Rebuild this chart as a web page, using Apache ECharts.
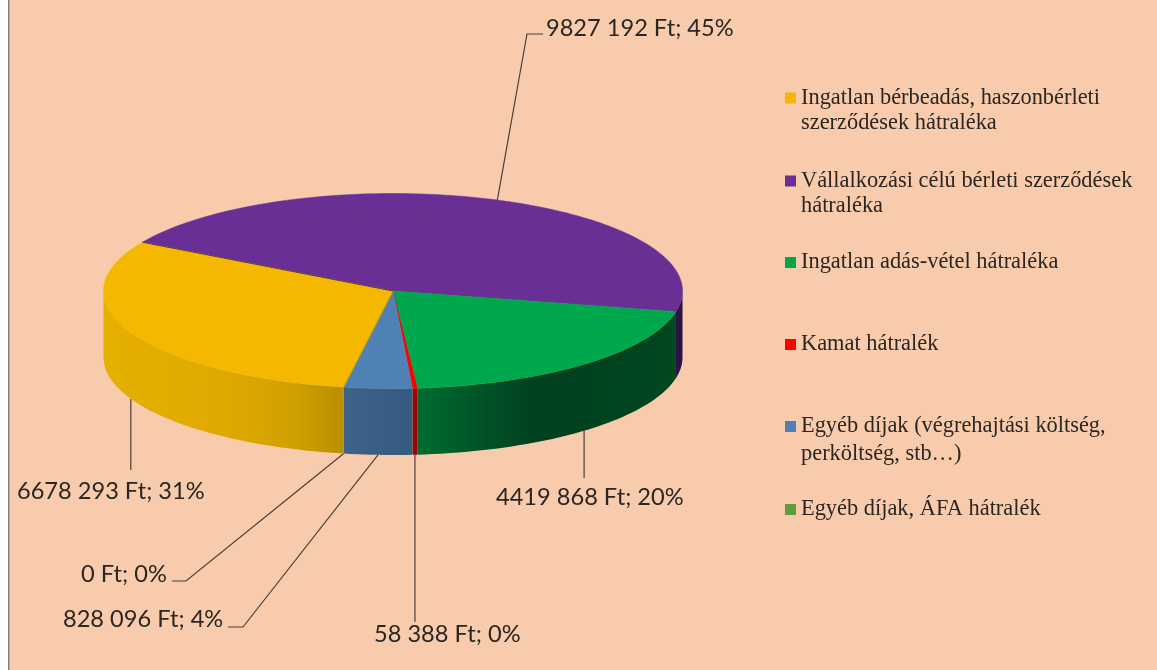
<!DOCTYPE html>
<html>
<head>
<meta charset="utf-8">
<style>
html,body{margin:0;padding:0;background:#fff;}
#main{width:1157px;height:670px;}
</style>
<script src="https://cdn.jsdelivr.net/npm/echarts@6/dist/echarts.min.js"></script>
</head>
<body>
<div id="main"></div>
<script>
var categories = [
	'Ingatlan bérbeadás, haszonbérleti\nszerződések hátraléka',
	'Vállalkozási célú bérleti szerződések\nhátraléka',
	'Ingatlan adás-vétel hátraléka',
	'Kamat hátralék',
	'Egyéb díjak (végrehajtási költség,\nperköltség, stb…)',
	'Egyéb díjak, ÁFA hátralék'
];
var amounts = [6678293, 9827192, 4419868, 58388, 828096, 0];
var percents = [31, 45, 20, 0, 4, 0];

var colors = ['#F4B800', '#692F95', '#00A84D', '#FF0000', '#4F81B4', '#5F9B3F'];
// side wall shading, offset and colour from the left end of the wall to the right end
var wallColors = [
	[[0, '#E6B000'], [0.5, '#E0A900'], [0.8, '#D0A000'], [1, '#B88E00']],
	[[0, '#2A1345'], [1, '#2A1345']],
	[[0, '#006C30'], [0.45, '#00401F'], [1, '#00471F']],
	[[0, '#A00000'], [1, '#A00000']],
	[[0, '#3D6488'], [1, '#345A7F']],
	[[0, '#3D6B28'], [1, '#3D6B28']]
];
var legendTops = [60.5, 143.5, 250, 332, 384.5, 497];
var legendLineHeights = [25, 25, 25, 25, 28, 25];

var cx = 393, cy = 291, rx = 289.5, ry = 97.5, depth = 66.5;
var firstAngle = 99.8;   // clockwise from the right, yellow slice starts here

var total = 0;
amounts.forEach(function(v){ total += v; });

// slices run clockwise yellow, purple, green, red, blue, last one
var angles = [];
(function(){
	var a = firstAngle;
	amounts.forEach(function(v){
		var sweep = v / total * 360;
		angles.push([a, a + sweep]);
		a += sweep;
	});
})();

function pt(deg, dy){
	var r = deg * Math.PI / 180;
	return [cx + rx * Math.cos(r), cy + ry * Math.sin(r) + (dy || 0)];
}
function fmt(v){
	var s = String(v);
	if(s.length <= 3) return s;
	return s.slice(0, s.length - 3) + ' ' + s.slice(s.length - 3);
}

function arc(a0, a1, dy){
	var list = [], n = Math.max(2, Math.ceil(Math.abs(a1 - a0) / 1.5));
	for(var i = 0; i <= n; i++){
		list.push(pt(a0 + (a1 - a0) * i / n, dy));
	}
	return list;
}

// front walls are the parts of the rim between 0 and 180 degrees
function wallRanges(a0, a1){
	var res = [];
	[[0, 180], [360, 540]].forEach(function(w){
		var s = Math.max(a0, w[0]), e = Math.min(a1, w[1]);
		if(e > s) res.push([s, e]);
	});
	return res;
}

function renderSlice(idx){
	return function(params, api){
		var a = angles[idx];
		var kids = [];
		if(a[1] - a[0] <= 0) return {type:'group', children:kids};
		wallRanges(a[0], a[1]).forEach(function(w){
			var top = arc(w[0], w[1], 0);
			var bottom = arc(w[1], w[0], depth);
			kids.push({
				type:'polygon',
				shape:{points:top.concat(bottom)},
				style:{
					fill:new echarts.graphic.LinearGradient(0, 0, 1, 0, wallColors[idx].map(function(s){
						return {offset:s[0], color:s[1]};
					})),
					stroke:null
				}
			});
		});
		kids.push({
			type:'polygon',
			shape:{points:[[cx, cy]].concat(arc(a[0], a[1], 0))},
			style:{fill:colors[idx], stroke:colors[idx], lineWidth:0.5}
		});
		// the yellow slice shows a thin darker rim on its two cut edges
		if(idx == 0){
			kids.push({type:'line', shape:{x1:cx, y1:cy, x2:pt(a[0])[0], y2:pt(a[0])[1]}, style:{stroke:'#C49A10', lineWidth:1}});
			kids.push({type:'line', shape:{x1:cx, y1:cy, x2:pt(a[1])[0], y2:pt(a[1])[1]}, style:{stroke:'#5A3A50', lineWidth:1}});
		}
		return {type:'group', children:kids};
	};
}

var series = categories.map(function(name, i){
	return {
		type:'custom',
		name:name,
		coordinateSystem:'none',
		silent:true,
		z:i == 0 ? 3 : 2,
		itemStyle:{color:colors[i]},
		data:[amounts[i]],
		renderItem:renderSlice(i)
	};
});

// labels and their leader lines, a null x means straight down from the rim
var labelSpots = [
	{x:17, y:491, via:[[null, 470]]},
	{x:546, y:28, via:[[527, 34], [543, 34]]},
	{x:496, y:497, via:[[null, 478]]},
	{x:374, y:634, via:[[null, 622]]},
	{x:63, y:619, via:[[243, 627], [228, 627]]},
	{x:81, y:574, via:[[186, 581], [172, 581]]}
];
var graphics = [
	{type:'rect', z:-1, shape:{x:9, y:0, width:1148, height:670}, style:{fill:'#F8CBAD'}},
	{type:'rect', z:-1, shape:{x:8, y:0, width:1.5, height:670}, style:{fill:'#808080'}}
];
labelSpots.forEach(function(sp, i){
	var a = angles[i], mid = (a[0] + a[1]) / 2;
	var onFront = (mid % 360) < 180;
	var start = pt(mid, onFront ? depth : 0);
	var rest = sp.via.map(function(p){ return [p[0] == null ? start[0] : p[0], p[1]]; });
	graphics.push({
		type:'polyline', z:1,
		shape:{points:[start].concat(rest)},
		style:{stroke:'#4A4038', lineWidth:1.2, fill:null}
	});
	graphics.push({
		type:'text', z:2, x:sp.x, y:sp.y,
		style:{
			text:fmt(amounts[i]) + ' Ft; ' + percents[i] + '%',
			fill:'#2A2622',
			font:'23.6px Lato',
			verticalAlign:'middle'
		}
	});
});

var legends = categories.map(function(name, i){
	return {
		data:[name],
		left:785,
		top:legendTops[i],
		orient:'vertical',
		selectedMode:false,
		icon:'rect',
		itemWidth:11,
		itemHeight:11,
		itemGap:0,
		padding:0,
		// a blank first line keeps the square level with the first text line
		formatter:function(n){ return n.indexOf('\n') >= 0 ? ' \n' + n : n; },
		textStyle:{
			fontFamily:'Liberation Serif',
			fontSize:22.4,
			lineHeight:legendLineHeights[i],
			color:'#2A2622'
		}
	};
});

var chart = echarts.init(document.getElementById('main'));
chart.setOption({
	animation:false,
	backgroundColor:'#fff',
	legend:legends,
	graphic:graphics,
	series:series
});
</script>
</body>
</html>
